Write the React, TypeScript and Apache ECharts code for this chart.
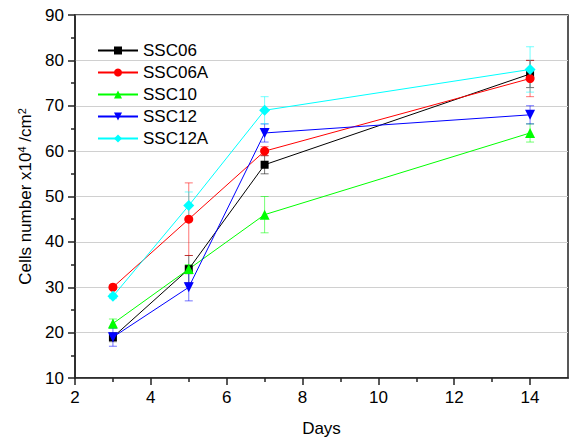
import React, { useEffect, useRef } from "react";
import * as echarts from "echarts";

const days = [3, 5, 7, 14];
const xTickLabels = [2, 4, 6, 8, 10, 12, 14];
const xMinorTicks = [3, 5, 7, 9, 11, 13];

const ssc06 = [19, 34, 57, 77];
const ssc06Err = [1, 3, 2, 3];
const ssc06A = [30, 45, 60, 76];
const ssc06AErr = [0.5, 8, 1, 4];
const ssc10 = [22, 34, 46, 64];
const ssc10Err = [1, 1, 4, 2];
const ssc12 = [19, 30, 64, 68];
const ssc12Err = [2, 3, 2, 2];
const ssc12A = [28, 48, 69, 78];
const ssc12AErr = [0.5, 3, 3, 5];

const FONT = "'Liberation Sans', Arial, sans-serif";
const downTri = "path://M0,0 L10,0 L5,10 Z";

const groups = [
  { name: "SSC06", values: ssc06, errs: ssc06Err, color: "#000000", symbol: "rect", size: 8 },
  { name: "SSC06A", values: ssc06A, errs: ssc06AErr, color: "#FF0000", symbol: "circle", size: 9 },
  { name: "SSC10", values: ssc10, errs: ssc10Err, color: "#00FF00", symbol: "triangle", size: 10 },
  { name: "SSC12", values: ssc12, errs: ssc12Err, color: "#0000FF", symbol: downTri, size: 10 },
  { name: "SSC12A", values: ssc12A, errs: ssc12AErr, color: "#00FFFF", symbol: "diamond", size: 11 },
];

export default function App() {
  const ref = useRef<HTMLDivElement>(null);
  useEffect(() => {
    if (!ref.current) return;
    const chart = echarts.init(ref.current, undefined, { renderer: "svg" });

    const lineSeries = groups.map((g) => ({
      name: g.name,
      type: "line",
      data: days.map((d, i) => [d, g.values[i]]),
      symbol: g.symbol,
      symbolSize: g.size,
      showAllSymbol: true,
      lineStyle: { color: g.color, width: 1 },
      itemStyle: { color: g.color },
      z: 3,
    }));

    const errSeries = groups.map((g) => ({
      name: g.name + "-err",
      type: "custom",
      silent: true,
      z: 2,
      data: days.map((d, i) => [d, g.values[i], g.errs[i]]),
      renderItem: (params: any, api: any) => {
        const x = api.value(0);
        const y = api.value(1);
        const e = api.value(2);
        const hi = api.coord([x, y + e]);
        const lo = api.coord([x, y - e]);
        const cw = 4;
        const style = { stroke: g.color, lineWidth: 1, opacity: 0.55 };
        return {
          type: "group",
          children: [
            { type: "line", shape: { x1: hi[0], y1: hi[1], x2: lo[0], y2: lo[1] }, style },
            { type: "line", shape: { x1: hi[0] - cw, y1: hi[1], x2: hi[0] + cw, y2: hi[1] }, style },
            { type: "line", shape: { x1: lo[0] - cw, y1: lo[1], x2: lo[0] + cw, y2: lo[1] }, style },
          ],
        };
      },
      encode: { x: 0, y: 1 },
    }));

    chart.setOption({
      animation: false,
      textStyle: { fontFamily: FONT },
      grid: {
        left: 75,
        right: 6,
        top: 15,
        bottom: 63,
        show: true,
        borderColor: "#222",
        borderWidth: 1.5,
        backgroundColor: "transparent",
      },
      legend: {
        orient: "vertical",
        left: 97,
        top: 42,
        padding: 0,
        itemWidth: 40,
        itemHeight: 10,
        itemGap: 5,
        textStyle: { fontSize: 17, color: "#000", fontFamily: FONT },
        data: groups.map((g) => g.name),
      },
      xAxis: [
        {
          type: "value",
          min: 2,
          max: 15,
          interval: 2,
          position: "bottom",
          name: "Days",
          nameLocation: "middle",
          nameGap: 42,
          nameTextStyle: { fontSize: 17, color: "#000", fontFamily: FONT },
          axisLine: { show: true, onZero: false, lineStyle: { color: "#222", width: 1.5 } },
          axisTick: { show: true, inside: false, length: 7, customValues: xTickLabels, lineStyle: { color: "#222", width: 1.5 } },
          axisLabel: { fontSize: 17, color: "#000", margin: 11, fontFamily: FONT, customValues: xTickLabels },
          splitLine: { show: false },
        },
        {
          type: "value",
          min: 2,
          max: 15,
          interval: 2,
          position: "bottom",
          axisLine: { show: false, onZero: false },
          axisTick: { show: true, inside: false, length: 4, customValues: xMinorTicks, lineStyle: { color: "#222", width: 1.5 } },
          axisLabel: { show: false },
          splitLine: { show: false },
        },
      ],
      yAxis: {
        type: "value",
        min: 10,
        max: 90,
        interval: 10,
        name: "Cells number x10{sup|4} /cm{sup|2}",
        nameLocation: "middle",
        nameGap: 40,
        nameTextStyle: {
          fontSize: 17,
          color: "#000",
          fontFamily: FONT,
          rich: {
            sup: { fontSize: 11, verticalAlign: "top", color: "#000", fontFamily: FONT, padding: [0, 0, 8, 0] },
          },
        },
        axisLine: { show: true, onZero: false, lineStyle: { color: "#222", width: 1.5 } },
        axisTick: { show: true, inside: false, length: 7, lineStyle: { color: "#222", width: 1.5 } },
        minorTick: { show: true, splitNumber: 2, length: 4, lineStyle: { color: "#222", width: 1.5 } },
        axisLabel: { fontSize: 17, color: "#000", margin: 11, fontFamily: FONT },
        splitLine: { show: true, lineStyle: { color: "#d0d0d0", width: 1 } },
      },
      series: [...errSeries, ...lineSeries],
    });

    return () => chart.dispose();
  }, []);

  return (
    <div
      ref={ref}
      style={{ position: "absolute", left: 0, top: 0, width: 574, height: 442 }}
    />
  );
}
